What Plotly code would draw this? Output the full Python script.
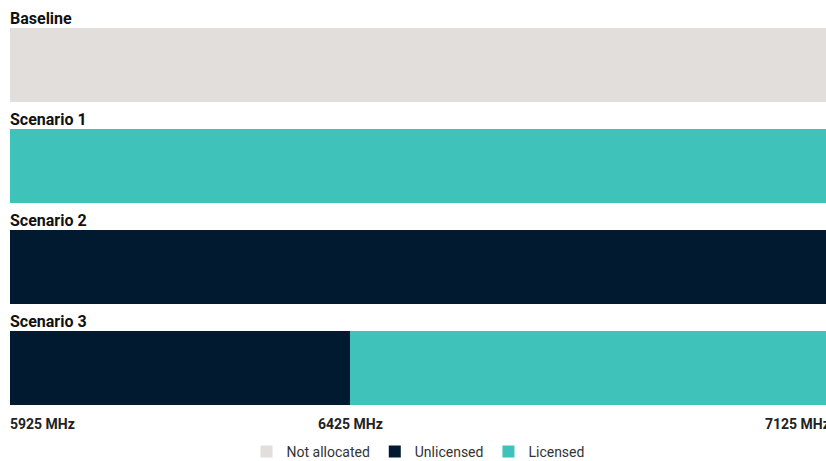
import plotly.graph_objects as go

# 数据
scenarios = ['Baseline', 'Scenario 1', 'Scenario 2', 'Scenario 3']
categories = ['Not allocated', 'Unlicensed', 'Licensed']
colors = {'Not allocated': '#E1DEDC', 'Unlicensed': '#021A2F', 'Licensed': '#3EC2B9'}

# 每段: (场景, 起点MHz, 终点MHz, 类别)
seg_scenario = ['Baseline', 'Scenario 1', 'Scenario 2', 'Scenario 3', 'Scenario 3']
seg_start = [5925, 5925, 5925, 5925, 6425]
seg_end = [7125, 7125, 7125, 6425, 7125]
seg_cat = ['Not allocated', 'Licensed', 'Unlicensed', 'Unlicensed', 'Licensed']

tick_vals = [5925, 6425, 7125]
tick_text = ['5925 MHz', '6425 MHz', '7125 MHz']

bar_w = 0.733
fig = go.Figure()
for cat in categories:
    ys, bases, lens = [], [], []
    for s, a, b, c in zip(seg_scenario, seg_start, seg_end, seg_cat):
        if c == cat:
            ys.append(scenarios.index(s))
            bases.append(a)
            lens.append(b - a)
    fig.add_trace(go.Bar(
        y=ys, x=lens, base=bases, orientation='h', name=cat,
        marker=dict(color=colors[cat], line=dict(width=0)),
        width=bar_w, hoverinfo='name'
    ))

# 场景标题
for i, s in enumerate(scenarios):
    fig.add_annotation(x=tick_vals[0], y=i - bar_w / 2, text='<b>' + s + '</b>',
                       showarrow=False, xanchor='left', yanchor='bottom',
                       xshift=-2, yshift=-2, font=dict(size=16, color='#111'))

# 频率刻度
anchors = ['left', 'center', 'right']
for v, t, a in zip(tick_vals, tick_text, anchors):
    fig.add_annotation(x=v, y=0, yref='paper', text='<b>' + t + '</b>', showarrow=False,
                       xanchor=a, yanchor='top', yshift=-9,
                       xshift={'left': -2, 'center': 0, 'right': 6}[a],
                       font=dict(size=14, color='#222'))

fig.update_layout(
    width=826, height=461,
    margin=dict(l=10, r=0, t=28, b=56),
    paper_bgcolor='white', plot_bgcolor='white',
    font=dict(family='Roboto, Noto Sans, sans-serif'),
    barmode='overlay', bargap=0,
    showlegend=True,
    legend=dict(orientation='h', x=0.5, xanchor='center', yref='container', y=0.02, yanchor='middle',
                font=dict(size=14, color='#333'), itemwidth=30),
    xaxis=dict(range=[5925, 7125], showgrid=False, zeroline=False, showticklabels=False,
               fixedrange=True),
    yaxis=dict(range=[len(scenarios) - 1 + bar_w / 2, -bar_w / 2], showgrid=False,
               zeroline=False, showticklabels=False, fixedrange=True),
)

# 去掉 body 默认的 8px 边距
fig.write_html('out.html', config={'displayModeBar': False},
               post_script="document.body.style.margin='0';")
